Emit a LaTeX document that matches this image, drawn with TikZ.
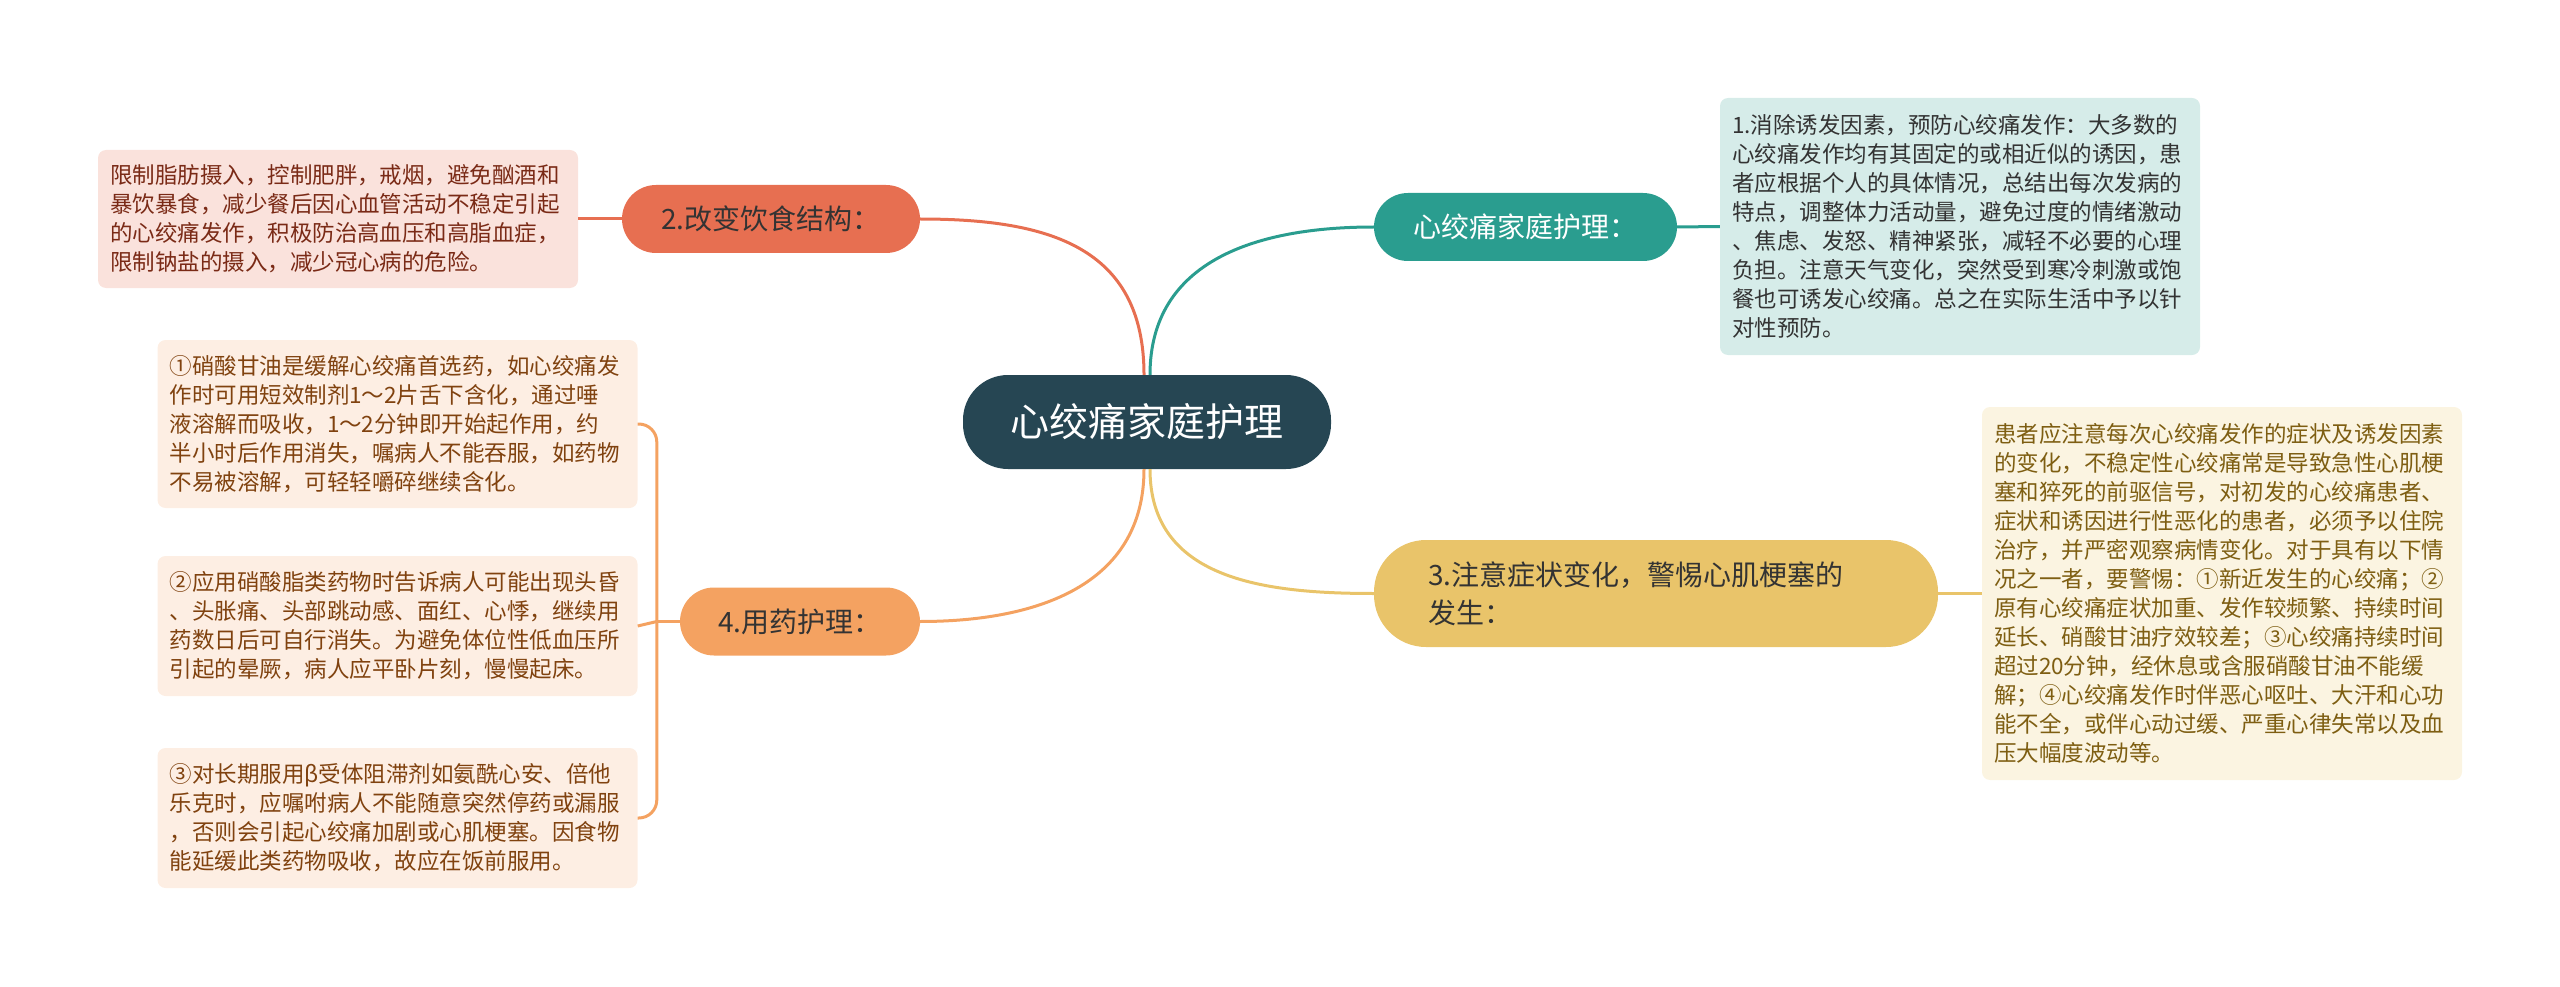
\documentclass[tikz,border=0pt]{standalone}
\usepackage{fontspec}
\newfontfamily\cjk{Noto Sans CJK SC}
\usepackage{xcolor}
\definecolor{hubfill}{HTML}{264653}
\definecolor{tealfill}{HTML}{2A9D8F}
\definecolor{coralfill}{HTML}{E76F51}
\definecolor{sandfill}{HTML}{E9C46A}
\definecolor{peachfill}{HTML}{F4A261}
\definecolor{tealleaf}{HTML}{D6ECE9}
\definecolor{coralleaf}{HTML}{FAE2DC}
\definecolor{sandleaf}{HTML}{FBF4E1}
\definecolor{peachleaf}{HTML}{FDEEE3}
\definecolor{tealink}{HTML}{333333}
\definecolor{coralink}{HTML}{7A2A16}
\definecolor{sandink}{HTML}{7E5E12}
\definecolor{peachink}{HTML}{80420F}
\tikzset{
  every node/.style={font=\cjk},
  hubnode/.style={fill=hubfill, text=white, rounded corners=45pt,
    minimum width=368pt, minimum height=94pt,
    font=\cjk\fontsize{39}{46}\selectfont},
  topic/.style={rounded corners=34pt, minimum height=68pt, text=black!80,
    font=\cjk\fontsize{28}{38}\selectfont},
  leaf/.style={rounded corners=8pt, text width=456pt, inner xsep=12pt,
    inner ysep=0pt, align=left, font=\cjk\fontsize{22.5}{29}\selectfont},
  branch/.style={line width=3pt}
}

\begin{document}
\begin{tikzpicture}[x=1pt,y=-1pt]
    \useasboundingbox (0,0) rectangle (2560,987);

    \node[hubnode] (care) at (1147,422) {心绞痛家庭护理};

    \node[topic, fill=tealfill, text=white, minimum width=303pt] (trigger) at (1525.5,227) {心绞痛家庭护理：};
    \node[topic, fill=coralfill, minimum width=298pt] (diet) at (771,219) {2.改变饮食结构：};
    \node[topic, fill=sandfill, minimum height=107pt, rounded corners=52pt,
      text width=456pt, inner xsep=54pt, align=left] (symptom) at (1656,593.5)
      {3.注意症状变化，警惕心肌梗塞的\\发生：};
    \node[topic, fill=peachfill, minimum width=240pt] (drug) at (800,621.5) {4.用药护理：};

    \node[leaf, fill=tealleaf, text=tealink, minimum height=257pt] (triggernote) at (1960,226.5)
      {1.消除诱发因素，预防心绞痛发作：大多数的\\
       心绞痛发作均有其固定的或相近似的诱因，患\\
       者应根据个人的具体情况，总结出每次发病的\\
       特点，调整体力活动量，避免过度的情绪激动\\
       、焦虑、发怒、精神紧张，减轻不必要的心理\\
       负担。注意天气变化，突然受到寒冷刺激或饱\\
       餐也可诱发心绞痛。总之在实际生活中予以针\\
       对性预防。};
    \node[leaf, fill=coralleaf, text=coralink, minimum height=138pt] (dietnote) at (338,219)
      {限制脂肪摄入，控制肥胖，戒烟，避免酗酒和\\
       暴饮暴食，减少餐后因心血管活动不稳定引起\\
       的心绞痛发作，积极防治高血压和高脂血症，\\
       限制钠盐的摄入，减少冠心病的危险。};
    \node[leaf, fill=sandleaf, text=sandink, minimum height=373pt] (symptomnote) at (2222,593.5)
      {患者应注意每次心绞痛发作的症状及诱发因素\\
       的变化，不稳定性心绞痛常是导致急性心肌梗\\
       塞和猝死的前驱信号，对初发的心绞痛患者、\\
       症状和诱因进行性恶化的患者，必须予以住院\\
       治疗，并严密观察病情变化。对于具有以下情\\
       况之一者，要警惕：①新近发生的心绞痛；②\\
       原有心绞痛症状加重、发作较频繁、持续时间\\
       延长、硝酸甘油疗效较差；③心绞痛持续时间\\
       超过20分钟，经休息或含服硝酸甘油不能缓\\
       解；④心绞痛发作时伴恶心呕吐、大汗和心功\\
       能不全，或伴心动过缓、严重心律失常以及血\\
       压大幅度波动等。};
    \node[leaf, fill=peachleaf, text=peachink, minimum height=168pt] (drugone) at (397.5,424)
      {①硝酸甘油是缓解心绞痛首选药，如心绞痛发\\
       作时可用短效制剂1～2片舌下含化，通过唾\\
       液溶解而吸收，1～2分钟即开始起作用，约\\
       半小时后作用消失，嘱病人不能吞服，如药物\\
       不易被溶解，可轻轻嚼碎继续含化。};
    \node[leaf, fill=peachleaf, text=peachink, minimum height=140pt] (drugtwo) at (397.5,626)
      {②应用硝酸脂类药物时告诉病人可能出现头昏\\
       、头胀痛、头部跳动感、面红、心悸，继续用\\
       药数日后可自行消失。为避免体位性低血压所\\
       引起的晕厥，病人应平卧片刻，慢慢起床。};
    \node[leaf, fill=peachleaf, text=peachink, minimum height=140pt] (drugthree) at (397.5,818)
      {③对长期服用β受体阻滞剂如氨酰心安、倍他\\
       乐克时，应嘱咐病人不能随意突然停药或漏服\\
       ，否则会引起心绞痛加剧或心肌梗塞。因食物\\
       能延缓此类药物吸收，故应在饭前服用。};

    % main branches
    \draw[branch, coralfill] ([xshift=-3pt]care.north) to[out=90,in=0,looseness=1.2] (diet.east);
    \draw[branch, tealfill] ([xshift=3pt]care.north) to[out=90,in=180,looseness=1.1] (trigger.west);
    \draw[branch, peachfill] ([xshift=-3pt]care.south) to[out=-90,in=0,looseness=1.1] (drug.east);
    \draw[branch, sandfill] ([xshift=3pt]care.south) to[out=-90,in=180,looseness=1.1] (symptom.west);

    % leaves
    \draw[branch, tealfill] (trigger.east) -- (triggernote.west);
    \draw[branch, coralfill] (diet.west) -- (dietnote.east);
    \draw[branch, sandfill] (symptom.east) -- (symptomnote.west);

    \coordinate (drugjoint) at ([xshift=-23pt]drug.west);
    \draw[branch, peachfill] (drug.west) -- (drugjoint);
    \draw[branch, peachfill, rounded corners=18pt] (drugjoint) |- (drugone.east);
    \draw[branch, peachfill, rounded corners=18pt] (drugjoint) |- (drugthree.east);
    \draw[branch, peachfill] (drugjoint) -- (drugtwo.east);
\end{tikzpicture}
\end{document}
